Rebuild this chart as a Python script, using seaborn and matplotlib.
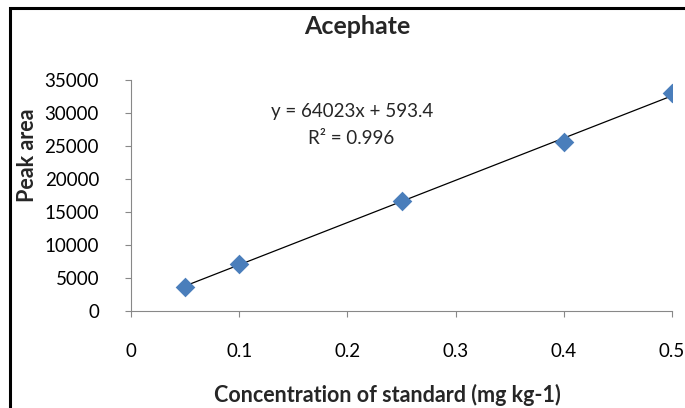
import matplotlib
matplotlib.use("Agg")
import matplotlib.pyplot as plt
import seaborn as sns
import numpy as np
import pandas as pd
from matplotlib.patches import Rectangle

concentration = [0.05, 0.1, 0.25, 0.4, 0.5]
peak_area = [3640, 7120, 16670, 25600, 33030]
slope = 64023
intercept = 593.4
r_squared = 0.996
x_ticks = [0, 0.1, 0.2, 0.3, 0.4, 0.5]
y_ticks = [0, 5000, 10000, 15000, 20000, 25000, 30000, 35000]

sns.set_theme(style="white")
plt.rcParams['font.family'] = ['Lato', 'DejaVu Sans']

fig = plt.figure(figsize=(6.85, 4.08), dpi=100)
ax = fig.add_axes([131/685, 1-311/408, (672-131)/685, (311-80)/408])

df = pd.DataFrame({"x": concentration, "y": peak_area})
xl = np.array([min(concentration), max(concentration)])
ax.plot(xl, slope*xl + intercept, color="black", lw=0.9, zorder=2)
sns.scatterplot(data=df, x="x", y="y", ax=ax, marker="D", s=100,
                color="#4A7EBB", edgecolor="#4A7EBB", linewidth=0, zorder=3)

ax.set_xlim(0, 0.5)
ax.set_ylim(0, 35000)
ax.set_xticks(x_ticks)
ax.set_xticklabels(["0", "0.1", "0.2", "0.3", "0.4", "0.5"])
ax.set_yticks(y_ticks)
ax.set_yticklabels([str(v) for v in y_ticks])
ax.tick_params(axis="both", which="both", direction="out", length=4, width=0.8,
               labelsize=13.5, bottom=True, left=True, colors="#888888",
               labelcolor="black")
ax.tick_params(axis="x", pad=19)
ax.tick_params(axis="y", pad=19)
for s in ["top", "right"]:
    ax.spines[s].set_visible(False)
for s in ["left", "bottom"]:
    ax.spines[s].set_color("#888888")
    ax.spines[s].set_linewidth(0.8)

ax.set_xlabel("Concentration of standard (mg kg-1)", fontsize=15.5, fontweight="bold")
ax.set_ylabel("Peak area", fontsize=15.5, fontweight="bold")
ax.xaxis.set_label_coords((387-131)/541, (311-384)/231)
ax.yaxis.set_label_coords((38-131)/541, (311-155)/231)
fig.text(357/685, 1-27/408, "Acephate", ha="center", va="center", fontsize=18, fontweight="bold")

ax.text(0.204, 30300, f"y = {slope}x + {intercept}", ha="center", va="center", fontsize=13.5)
ax.text(0.203, 26100, f"R² = {r_squared}", ha="center", va="center", fontsize=13.5)

fig.patches.append(Rectangle((10/685, -0.1), 1.2, 1-8/408+0.1, transform=fig.transFigure,
                             fill=False, edgecolor="black", linewidth=2.2))

fig.savefig("out.png", dpi=100)
